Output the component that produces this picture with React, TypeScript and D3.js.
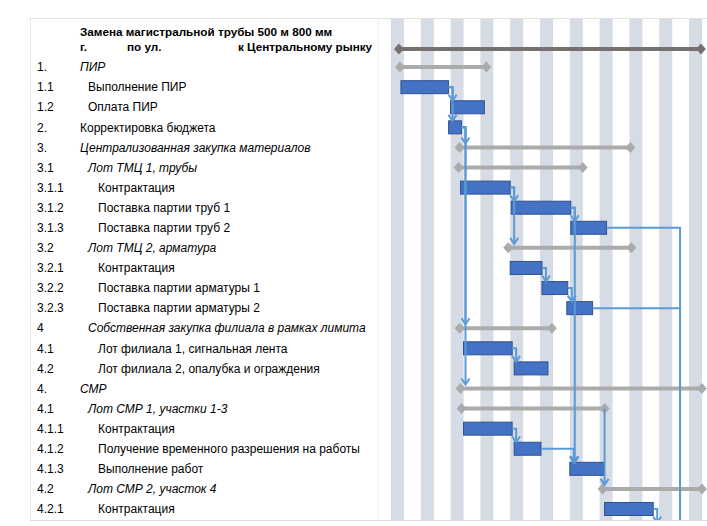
import React from "react";
import * as d3 from "d3";

// ---------- data ----------
const titleLine1 = "Замена магистральной трубы 500 м 800 мм";
const titleLine2Parts = ["г.", "по ул.", "к Центральному рынку"];

const rowNumbers = ["", "1.", "1.1", "1.2", "2.", "3.", "3.1", "3.1.1", "3.1.2", "3.1.3", "3.2", "3.2.1", "3.2.2", "3.2.3", "4", "4.1", "4.2", "4.", "4.1", "4.1.1", "4.1.2", "4.1.3", "4.2", "4.2.1", "4.2.2", "4.2.3"];
const rowLabels = [
  "",
  "ПИР",
  "Выполнение ПИР",
  "Оплата ПИР",
  "Корректировка бюджета",
  "Централизованная закупка материалов",
  "Лот ТМЦ 1, трубы",
  "Контрактация",
  "Поставка партии труб 1",
  "Поставка партии труб 2",
  "Лот ТМЦ 2, арматура",
  "Контрактация",
  "Поставка партии арматуры 1",
  "Поставка партии арматуры 2",
  "Собственная закупка филиала в рамках лимита",
  "Лот филиала 1, сигнальная лента",
  "Лот филиала 2, опалубка и ограждения",
  "СМР",
  "Лот СМР 1, участки 1-3",
  "Контрактация",
  "Получение временного разрешения на работы",
  "Выполнение работ",
  "Лот СМР 2, участок 4",
  "Контрактация",
  "Получение временного разрешения на работы",
  "Выполнение работ",
];
const rowLevels = [0, 1, 2, 2, 1, 1, 2, 3, 3, 3, 2, 3, 3, 3, 2, 3, 3, 1, 2, 3, 3, 3, 2, 3, 3, 3];
const rowKinds = ["project", "summary", "task", "task", "task", "summary", "summary", "task", "task", "task", "summary", "task", "task", "task", "summary", "task", "task", "summary", "summary", "task", "task", "task", "summary", "task", "task", "task"];
// start / end in days
const taskStarts = [8, 9, 10, 60, 58, 69, 68, 70, 121, 181, 118, 120, 152, 177, 69, 73, 124, 70, 71, 73, 124, 180, 213, 215, 266, 287];
const taskEnds = [312, 96, 58, 94, 71, 241, 193, 120, 181, 217, 242, 152, 178, 203, 162, 122, 158, 313, 215, 122, 151, 214, 313, 264, 290, 320];
// finish-to-start links: [from row, to row]
const dependencies = [
  [2, 3], [2, 4], [4, 5], [4, 14], [4, 17], [7, 8], [7, 10], [8, 9], [8, 21], [9, 25],
  [11, 12], [12, 13], [13, 25], [15, 16], [18, 22], [19, 20], [20, 21], [23, 24],
];
const periodDays = 30;
const bandDays = 13.1;

// ---------- styles ----------
const W = 707;
const H = 526;
const TOP = 18;
const BOTTOM = 520;
const FONT = "'Liberation Sans', Arial, sans-serif";
const BAR_FILL = "#4472C4";
const BAR_STROKE = "#2F528F";
const LINK = "#5B9BD5";
const SUMMARY = "#ABABAB";
const PROJECT = "#767171";
const BAND = "#D6DCE5";
const levelX: Record<number, number> = { 1: 80, 2: 88, 3: 98 };
const FS = 12;

export default function App() {
  const x = d3.scaleLinear().domain([0, 318]).range([391, 391 + (318 * 29.8) / 30]);
  const idx = rowNumbers.map((_, i) => i);
  const y = d3.scaleLinear().domain([0, 23]).range([47, 509]);
  const barH = 13;

  const bands = d3.range(0, 318, periodDays);
  const visibleRows = idx.filter((i) => i > 0 && y(i) + 6 < BOTTOM);

  const linkPaths = dependencies.map(([s, t], i) => {
    const srcSummary = rowKinds[s] !== "task";
    const srcEnd = taskEnds[s];
    const tgtStart = taskStarts[t];
    let corner: number;
    if (srcSummary) corner = srcEnd;
    else corner = tgtStart <= srcEnd + 4 ? srcEnd + 4 : tgtStart + 4;
    const cx = x(corner);
    const sy = y(s);
    const tipY = rowKinds[t] === "task" ? y(t) - barH / 2 : y(t) - 4;
    const d = srcSummary
      ? `M${cx},${sy}V${tipY}`
      : `M${x(srcEnd)},${sy}H${cx}V${tipY}`;
    return { d, cx, tipY, key: i };
  });

  return (
    <svg width={W} height={H} style={{ position: "absolute", left: 0, top: 0, background: "#fff" }} fontFamily={FONT}>
      <defs>
        <clipPath id="clipArea">
          <rect x={0} y={TOP} width={W} height={BOTTOM - TOP} />
        </clipPath>
      </defs>
      {/* bands */}
      <g>
        {bands.map((d) => (
          <rect key={d} x={x(d)} y={TOP} width={x(d + bandDays) - x(d)} height={BOTTOM - TOP} fill={BAND} />
        ))}
      </g>
      {/* frame */}
      <line x1={30} x2={W} y1={TOP + 0.5} y2={TOP + 0.5} stroke="#E2E2E2" />
      <line x1={30} x2={W} y1={BOTTOM + 0.5} y2={BOTTOM + 0.5} stroke="#DADADA" />
      <line x1={30.5} x2={30.5} y1={TOP} y2={BOTTOM} stroke="#E8E8E8" />
      <line x1={378.5} x2={378.5} y1={TOP} y2={BOTTOM} stroke="#EFEFEF" />

      {/* title */}
      <text x={80} y={32} dy="0.35em" fontSize={11.7} fontWeight="bold" fill="#000">{titleLine1}</text>
      {titleLine2Parts.map((p, i) => (
        <text key={i} x={[80, 127, 238][i]} y={47} dy="0.35em" fontSize={11.7} fontWeight="bold" fill="#000">{p}</text>
      ))}

      {/* labels */}
      {visibleRows.map((i) => (
        <g key={i}>
          <text x={37} y={y(i)} dy="0.35em" fontSize={FS} fill="#000">{rowNumbers[i]}</text>
          <text x={levelX[rowLevels[i]]} y={y(i)} dy="0.35em" fontSize={FS} fill="#000"
            fontStyle={rowKinds[i] === "summary" ? "italic" : "normal"}>{rowLabels[i]}</text>
        </g>
      ))}

      <g clipPath="url(#clipArea)">
        {/* summaries */}
        {idx.filter((i) => rowKinds[i] !== "task").map((i) => {
          const c = rowKinds[i] === "project" ? PROJECT : SUMMARY;
          const yy = y(i) + (rowKinds[i] === "project" ? 2 : 0);
          const x0 = x(taskStarts[i]);
          const x1 = x(taskEnds[i]);
          const dia = (cx: number) => `M${cx - 5},${yy}L${cx},${yy - 5.5}L${cx + 5},${yy}L${cx},${yy + 5.5}Z`;
          return (
            <g key={i}>
              <line x1={x0} x2={x1} y1={yy} y2={yy} stroke={c} strokeWidth={4} />
              <path d={dia(x0)} fill={c} />
              <path d={dia(x1)} fill={c} />
            </g>
          );
        })}
        {/* task bars */}
        {idx.filter((i) => rowKinds[i] === "task").map((i) => (
          <rect key={i} x={x(taskStarts[i])} y={y(i) - barH / 2} width={x(taskEnds[i]) - x(taskStarts[i])} height={barH}
            fill={BAR_FILL} stroke={BAR_STROKE} strokeWidth={1} />
        ))}
        {/* links */}
        {linkPaths.map((l) => (
          <g key={l.key}>
            <path d={l.d} fill="none" stroke={LINK} strokeWidth={2} />
            <path d={`M${l.cx - 4},${l.tipY - 6}L${l.cx},${l.tipY}L${l.cx + 4},${l.tipY - 6}`} fill="none" stroke={LINK} strokeWidth={2} />
          </g>
        ))}
      </g>
    </svg>
  );
}
